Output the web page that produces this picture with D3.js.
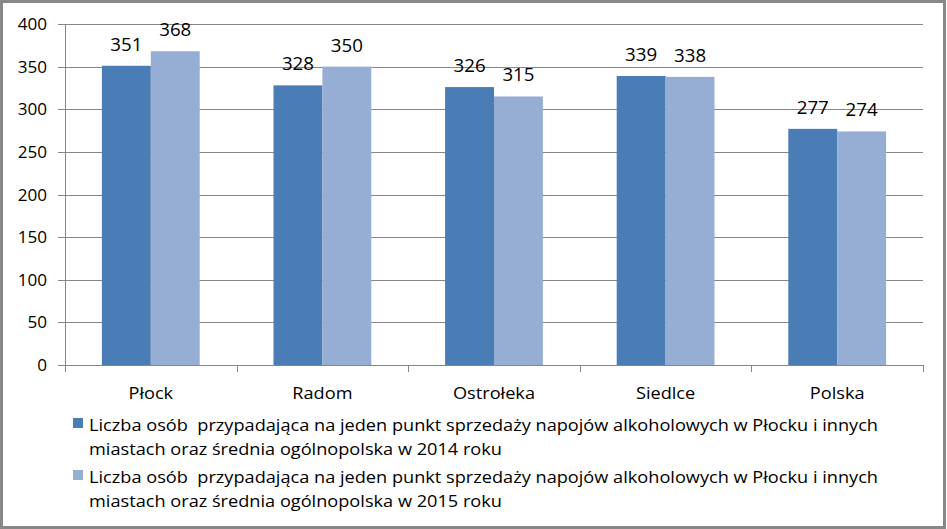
<!DOCTYPE html>
<html><head><meta charset="utf-8">
<script src="https://cdn.jsdelivr.net/npm/d3@7/dist/d3.min.js"></script>
<style>body{margin:0;background:#fff}svg{display:block}text{font-family:"Open Sans",sans-serif;fill:#000;white-space:pre}</style>
</head><body>
<svg id="c" width="947" height="529"></svg>
<script>
const categories = ["Płock","Radom","Ostrołeka","Siedlce","Polska"];
const values2014 = [351,328,326,339,277];
const values2015 = [368,350,315,338,274];
const seriesNames = [
  ["Liczba osób  przypadająca na jeden punkt sprzedaży napojów alkoholowych w Płocku i innych","miastach oraz średnia ogólnopolska w 2014 roku"],
  ["Liczba osób  przypadająca na jeden punkt sprzedaży napojów alkoholowych w Płocku i innych","miastach oraz średnia ogólnopolska w 2015 roku"]
];
const yTicks = [0,50,100,150,200,250,300,350,400];
const colors = ["#4A7CB5","#97AED4"];

const svg = d3.select("#c");
const L=65,R=923,T=24,B=365;
const x0 = d3.scaleBand().domain(categories).range([L,R]).paddingInner(0.43).paddingOuter(0.215);
const x1 = d3.scaleBand().domain([0,1]).range([0,x0.bandwidth()]);
const y = d3.scaleLinear().domain([0,400]).range([B,T]);
const grid="#868686";

// border
svg.append("rect").attr("x",1.5).attr("y",1.5).attr("width",943).attr("height",526)
  .attr("fill","#fff").attr("stroke","#878787").attr("stroke-width",3);

// gridlines
svg.append("g").selectAll("line").data(yTicks).join("line")
  .attr("x1",L-7).attr("x2",R).attr("y1",d=>Math.round(y(d))+0.5).attr("y2",d=>Math.round(y(d))+0.5)
  .attr("stroke",grid).attr("stroke-width",1);
svg.append("line").attr("x1",L+0.5).attr("x2",L+0.5).attr("y1",T).attr("y2",B).attr("stroke",grid);
// x ticks at boundaries
const bounds = categories.map(c=>x0(c)-x0.step()*x0.paddingInner()/2).concat([R]);
svg.append("g").selectAll("line").data(bounds).join("line")
  .attr("x1",d=>Math.round(d)+0.5).attr("x2",d=>Math.round(d)+0.5).attr("y1",B).attr("y2",B+7).attr("stroke",grid);

const texts=[];
// y labels
svg.append("g").selectAll("text").data(yTicks).join("text")
  .attr("x",47).attr("y",d=>y(d)+6).attr("text-anchor","end").attr("font-size",16).text(d=>d)
  .each(function(){texts.push(this)});

// bars
const series=[values2014,values2015];
series.forEach((vals,si)=>{
  const g=svg.append("g");
  g.selectAll("rect").data(vals).join("rect")
    .attr("x",(d,i)=>x0(categories[i])+x1(si)).attr("width",x1.bandwidth())
    .attr("y",d=>y(d)).attr("height",d=>B-y(d)).attr("fill",colors[si]);
  g.selectAll("text").data(vals).join("text")
    .attr("x",(d,i)=>x0(categories[i])+x1(si)+x1.bandwidth()/2).attr("y",d=>y(d)-15)
    .attr("text-anchor","middle").attr("font-size",17.5).text(d=>d)
    .each(function(){texts.push(this)});
});

// category labels
svg.append("g").selectAll("text").data(categories).join("text")
  .attr("x",d=>x0(d)+x0.bandwidth()/2).attr("y",399).attr("text-anchor","middle").attr("font-size",17).text(d=>d)
  .each(function(){texts.push(this)});

// legend
const legY=[430.7,482.7];
let ref=null;
seriesNames.forEach((lines,si)=>{
  svg.append("rect").attr("x",73).attr("y",legY[si]-12.7).attr("width",10).attr("height",10).attr("fill",colors[si]);
  lines.forEach((ln,li)=>{
    const t=svg.append("text").attr("x",89).attr("y",legY[si]+li*24).attr("font-size",17).text(ln);
    texts.push(t.node());
    if(si===0&&li===0) ref=t.node();
  });
});
const k = 789/ref.getComputedTextLength();
texts.forEach(n=>{
  const w=n.getComputedTextLength();
  d3.select(n).attr("textLength",w*k).attr("lengthAdjust","spacingAndGlyphs");
});
</script>
</body></html>
